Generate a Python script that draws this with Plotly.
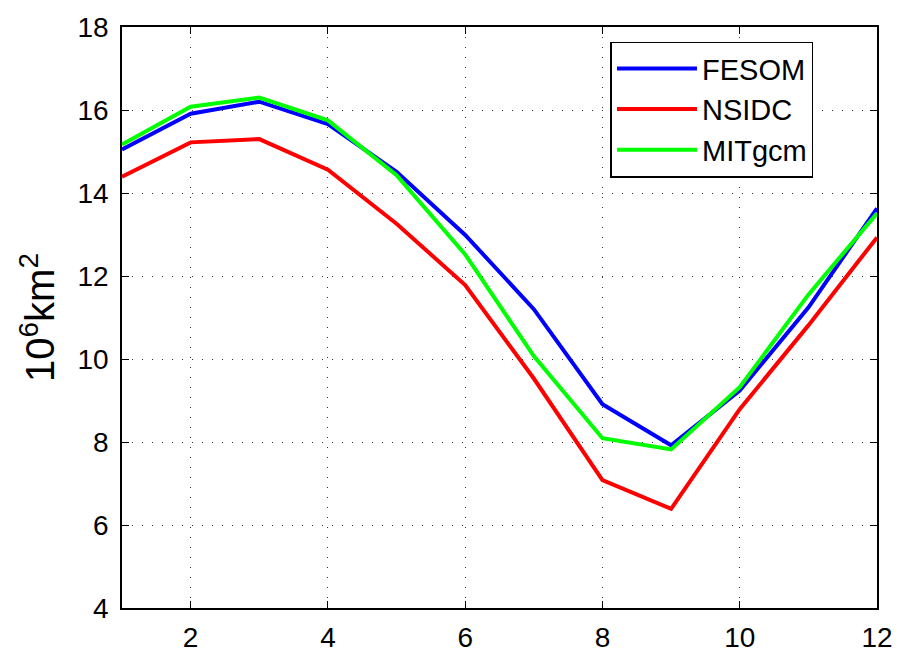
import plotly.graph_objects as go

months = [1, 2, 3, 4, 5, 6, 7, 8, 9, 10, 11, 12]
fesom = [15.05, 15.91, 16.20, 15.66, 14.51, 12.99, 11.20, 8.91, 7.92, 9.24, 11.24, 13.63]
nsidc = [14.39, 15.22, 15.30, 14.56, 13.26, 11.78, 9.53, 7.08, 6.39, 8.79, 10.81, 12.93]
mitgcm = [15.17, 16.08, 16.30, 15.75, 14.43, 12.52, 10.07, 8.09, 7.82, 9.32, 11.55, 13.51]

x_ticks = [2, 4, 6, 8, 10, 12]
y_ticks = [4, 6, 8, 10, 12, 14, 16, 18]

FONT = "Liberation Sans, Arial, sans-serif"

fig = go.Figure()
fig.add_trace(go.Scatter(x=months, y=fesom, mode="lines", name="FESOM",
                         line=dict(color="#0000ff", width=4)))
fig.add_trace(go.Scatter(x=months, y=nsidc, mode="lines", name="NSIDC",
                         line=dict(color="#ff0000", width=4)))
fig.add_trace(go.Scatter(x=months, y=mitgcm, mode="lines", name="MITgcm",
                         line=dict(color="#00ff00", width=4)))

axis_common = dict(
    showline=True, linecolor="black", linewidth=1.5, mirror="ticks",
    ticks="inside", ticklen=7, tickcolor="black", tickwidth=1,
    showgrid=True, gridcolor="#333333", griddash="1px,9px", gridwidth=1.2,
    zeroline=False,
    tickfont=dict(family=FONT, size=28, color="black"),
)

fig.update_layout(
    width=905, height=665,
    margin=dict(l=122, r=25, t=22, b=43),
    paper_bgcolor="white", plot_bgcolor="white",
    showlegend=True,
    legend=dict(
        x=0.647, y=0.975, xanchor="left", yanchor="top",
        bordercolor="black", borderwidth=1.5, bgcolor="white",
        font=dict(family=FONT, size=29, color="black"),
        tracegroupgap=0, itemwidth=80,
    ),
    xaxis=dict(range=[1, 12], tickvals=x_ticks, ticktext=[str(v) for v in x_ticks],
               ticklabelstandoff=4, **axis_common),
    yaxis=dict(range=[4, 18], tickvals=y_ticks, ticktext=[str(v) for v in y_ticks],
               ticklabelstandoff=6,
               title=dict(text="10<sup>6</sup>km<sup>2</sup>",
                          font=dict(family=FONT, size=40, color="black"),
                          standoff=10),
               **axis_common),
)

fig.write_html("out.html", config={"displayModeBar": False},
               post_script="document.body.style.margin='0px';document.body.style.overflow='hidden';")
